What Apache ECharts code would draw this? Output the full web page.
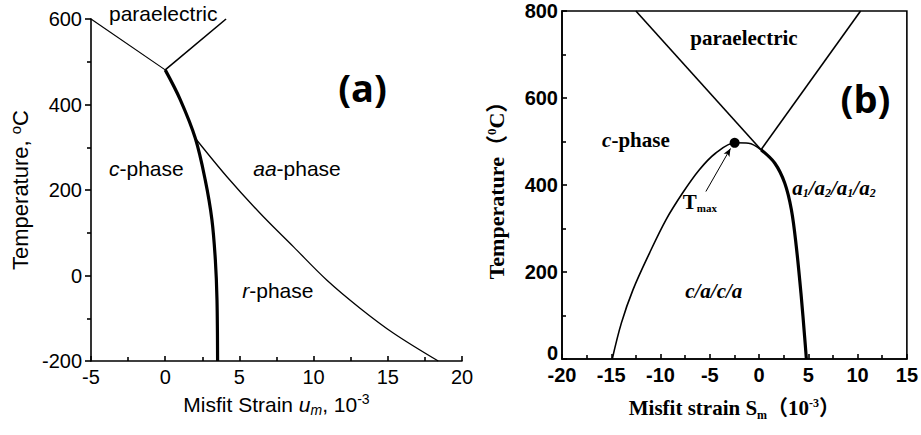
<!DOCTYPE html>
<html lang="en">
<head>
    <meta charset="UTF-8">
    <title>Misfit strain phase diagrams</title>
    <script src="https://cdn.jsdelivr.net/npm/echarts@6/dist/echarts.min.js"></script>
    <style type="text/css">
        html, body { margin: 0; padding: 0; background: #fff; }
        #chart { width: 921px; height: 435px; }
    </style>
</head>
<body>
<div id="chart"></div>
<script type="text/javascript">
    // ---- panel (a): misfit strain u_m (10^-3) vs temperature (°C)
    var xTicksA = [-5, 20, 5];
    var yTicksA = [-200, 600, 200];
    var paraLeftA = [[-5, 600], [0, 481]];
    var paraRightA = [[0, 481], [4.1, 600]];
    var cBoundaryA = [[0, 481], [1.02, 411], [2.03, 321], [2.7, 223], [3.15, 130], [3.38, 36], [3.49, -57], [3.53, -200]];
    var aaBoundaryA = [[2.03, 321], [4.16, 231], [6.41, 145], [8.65, 67], [10.9, -11], [13.15, -77], [15.39, -135], [18.4, -200]];

    // ---- panel (b): misfit strain S_m (10^-3) vs temperature (°C)
    var xTicksB = [-20, 15, 5];
    var yTicksB = [0, 800, 200];
    var paraLeftB = [[-12.5, 800], [0.2, 481]];
    var paraRightB = [[0.2, 481], [10.3, 800]];
    var cBoundaryB = [[-14.9, 0], [-13.97, 83], [-12.8, 159], [-11.13, 243], [-9.45, 320], [-7.78, 381], [-6.1, 434], [-4.42, 473], [-2.41, 497], [-1.07, 496], [0.2, 481]];
    var aBoundaryB = [[0.2, 481], [1.6, 450], [2.61, 404], [3.28, 343], [3.78, 258], [4.28, 144], [4.62, 52], [4.8, 0]];
    var tmaxPoint = [[-2.48, 497]];
    var tmaxArrow = [[-5.4, 385], [-2.9, 484]];

    // text labels: [text, x, y, style]
    var labelsA = [
        ['paraelectric', -0.13, 614, 'n'],
        ['(a)', 13.3, 440, 'big'],
        ['{i|c}-phase', -1.27, 250, 'n'],
        ['{i|aa}-phase', 8.88, 250, 'n'],
        ['{i|r}-phase', 7.59, -34, 'n']
    ];
    var labelsB = [
        ['paraelectric', -1.53, 738, 'n'],
        ['(b)', 10.8, 601, 'big'],
        ['{i|c}-phase', -12.5, 503, 'n'],
        ['T{sub|max}', -6.0, 362, 'n'],
        ['{i|c/a/c/a}', -4.6, 157, 'n'],
        ['{i|a}{isub|1}{i|/a}{isub|2}{i|/a}{isub|1}{i|/a}{isub|2}', 7.6, 393, 'n']
    ];

    var sansA = "'Liberation Sans', Arial, sans-serif";
    var serifB = "'Times New Roman', 'Liberation Serif', serif";

    var chart = echarts.init(document.getElementById('chart'), null, {renderer: 'svg'});

    function lineSeries(data, xi, width) {
        return {
            type: 'line', xAxisIndex: xi, yAxisIndex: xi, data: data,
            smooth: 0.35, symbol: 'none', silent: true, clip: false,
            lineStyle: {color: '#000', width: width}
        };
    }

    function textSeries(list, xi, font, bold, size) {
        var rich = {
            n: {fontFamily: font, fontSize: size, fontWeight: bold, color: '#000'},
            i: {fontFamily: font, fontSize: size, fontWeight: bold, fontStyle: 'italic', color: '#000'},
            sub: {fontFamily: font, fontSize: 11, fontWeight: bold, color: '#000', padding: [12, 0, 0, 0]},
            isub: {fontFamily: font, fontSize: 12, fontWeight: bold, fontStyle: 'italic', color: '#000', padding: [10, 0, 0, 0]},
            big: {fontFamily: "'Open Sans', sans-serif", fontSize: 38, fontWeight: 'bold', color: '#000'}
        };
        return {
            type: 'scatter', xAxisIndex: xi, yAxisIndex: xi, symbolSize: 0, silent: true, clip: false,
            itemStyle: {opacity: 1},
            data: list.map(function (d) {
                var txt = d[3] === 'big' ? '{big|' + d[0] + '}' : d[0];
                return {
                    value: [d[1], d[2]],
                    label: {
                        show: true, position: 'inside', formatter: txt,
                        fontFamily: font, fontSize: size, fontWeight: bold, color: '#000', rich: rich
                    }
                };
            })
        };
    }

    var axisLineStyle = {color: '#000', width: 1.6};

    chart.setOption({
        backgroundColor: '#fff',
        animation: false,
        grid: [
            {left: 91, top: 19, width: 371, height: 342},
            {left: 562, top: 11, width: 348, height: 348, show: true, borderColor: '#000', borderWidth: 1.6}
        ],
        xAxis: [{
            gridIndex: 0, type: 'value', min: xTicksA[0], max: xTicksA[1], interval: xTicksA[2],
            axisLine: {onZero: false, lineStyle: axisLineStyle},
            axisTick: {inside: true, length: 5, lineStyle: axisLineStyle},
            minorTick: {show: true, splitNumber: 2, length: 4, lineStyle: axisLineStyle},
            splitLine: {show: false},
            axisLabel: {margin: 6, color: '#000', fontFamily: sansA, fontSize: 20},
            name: '{n|Misfit Strain }{i|u}{sub|m}{n|, 10}{sup|-3}',
            nameLocation: 'middle', nameGap: 30,
            nameTextStyle: {
                rich: {
                    n: {fontFamily: sansA, fontSize: 21, color: '#000', lineHeight: 26},
                    i: {fontFamily: sansA, fontSize: 21, fontStyle: 'italic', color: '#000', lineHeight: 26},
                    sub: {fontFamily: sansA, fontSize: 14, fontStyle: 'italic', color: '#000', padding: [12, 0, 0, 0]},
                    sup: {fontFamily: sansA, fontSize: 14, color: '#000', padding: [0, 0, 10, 0]}
                }
            }
        }, {
            gridIndex: 1, type: 'value', min: xTicksB[0], max: xTicksB[1], interval: xTicksB[2],
            axisLine: {onZero: false, lineStyle: axisLineStyle},
            axisTick: {inside: true, length: 5, lineStyle: axisLineStyle},
            minorTick: {show: true, splitNumber: 2, length: 4, lineStyle: axisLineStyle},
            splitLine: {show: false},
            axisLabel: {margin: 6, color: '#000', fontFamily: sansA, fontSize: 20, fontWeight: 'bold'},
            name: '{n|Misfit strain S}{sub|m}{n|（10}{sup|-3}{n|）}',
            nameLocation: 'middle', nameGap: 36,
            nameTextStyle: {
                rich: {
                    n: {fontFamily: serifB + ", 'Noto Sans CJK SC'", fontSize: 21, fontWeight: 'bold', color: '#000', lineHeight: 26},
                    sub: {fontFamily: serifB, fontSize: 12, fontWeight: 'bold', color: '#000', padding: [14, 0, 0, 0]},
                    sup: {fontFamily: serifB, fontSize: 12, fontWeight: 'bold', color: '#000', padding: [0, 0, 10, 0]}
                }
            }
        }],
        yAxis: [{
            gridIndex: 0, type: 'value', min: yTicksA[0], max: yTicksA[1], interval: yTicksA[2],
            axisLine: {onZero: false, lineStyle: axisLineStyle},
            axisTick: {inside: false, length: 6, lineStyle: axisLineStyle},
            minorTick: {show: true, splitNumber: 2, length: 4, lineStyle: axisLineStyle},
            splitLine: {show: false},
            axisLabel: {margin: 9, color: '#000', fontFamily: sansA, fontSize: 20},
            name: '{n|Temperature, }{sup|o}{n|C}',
            nameLocation: 'middle', nameGap: 58, nameRotate: 90,
            nameTextStyle: {
                rich: {
                    n: {fontFamily: sansA, fontSize: 22, color: '#000', lineHeight: 26},
                    sup: {fontFamily: sansA, fontSize: 15, color: '#000', padding: [0, 0, 10, 0]}
                }
            }
        }, {
            gridIndex: 1, type: 'value', min: yTicksB[0], max: yTicksB[1], interval: yTicksB[2],
            axisLine: {onZero: false, lineStyle: axisLineStyle},
            axisTick: {inside: true, length: 5, lineStyle: axisLineStyle},
            minorTick: {show: true, splitNumber: 2, length: 4, lineStyle: axisLineStyle},
            splitLine: {show: false},
            axisLabel: {
                margin: 4, color: '#000', fontFamily: sansA, fontSize: 20, fontWeight: 'bold',
                formatter: function (v) { return v === 0 ? '{z|0}' : String(v); },
                rich: {z: {fontFamily: sansA, fontSize: 20, fontWeight: 'bold', color: '#000', padding: [0, 0, 12, 0]}}
            },
            name: '{n|Temperature（}{sup|0}{n|C）}',
            nameLocation: 'middle', nameGap: 53, nameRotate: 90,
            nameTextStyle: {
                rich: {
                    n: {fontFamily: serifB + ", 'Noto Sans CJK SC'", fontSize: 22, fontWeight: 'bold', color: '#000', lineHeight: 26},
                    sup: {fontFamily: serifB, fontSize: 13, fontWeight: 'bold', color: '#000', padding: [0, 0, 10, 0]}
                }
            }
        }],
        series: [
            lineSeries(paraLeftA, 0, 1.2),
            lineSeries(paraRightA, 0, 1.6),
            lineSeries(cBoundaryA, 0, 3.2),
            lineSeries(aaBoundaryA, 0, 1.3),
            lineSeries(paraLeftB, 1, 1.6),
            lineSeries(paraRightB, 1, 1.6),
            lineSeries(cBoundaryB, 1, 1.6),
            lineSeries(aBoundaryB, 1, 3.2),
            {
                type: 'scatter', xAxisIndex: 1, yAxisIndex: 1, data: tmaxPoint,
                symbolSize: 10, itemStyle: {color: '#000', opacity: 1}, silent: true
            },
            {
                type: 'line', xAxisIndex: 1, yAxisIndex: 1, symbol: 'none', silent: true,
                data: [], lineStyle: {width: 0},
                markLine: {
                    silent: true, symbol: ['none', 'arrow'], symbolSize: [5, 8], label: {show: false},
                    lineStyle: {color: '#000', width: 1, type: 'solid'},
                    data: [[{coord: tmaxArrow[0]}, {coord: tmaxArrow[1]}]]
                }
            },
            textSeries(labelsA, 0, sansA, 'normal', 21),
            textSeries(labelsB, 1, serifB, 'bold', 21)
        ]
    });
</script>
</body>
</html>
